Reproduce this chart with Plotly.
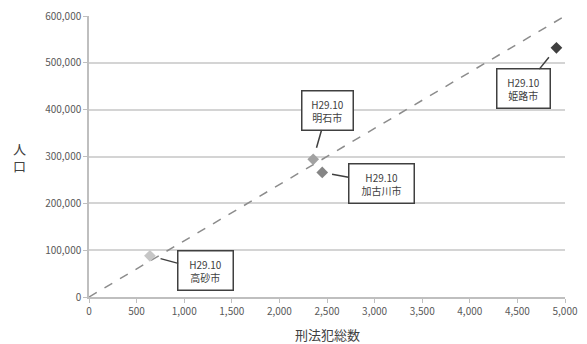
import plotly.graph_objects as go

cities = ["高砂市", "明石市", "加古川市", "姫路市"]
crimes = [640, 2355, 2450, 4910]
population = [88000, 294000, 266000, 532000]
period = "H29.10"
marker_colors = ["#c6c6c6", "#a2a2a2", "#858585", "#3f3f3f"]
trend_x = [0, 5000]
trend_y = [0, 600000]

# callout offsets (px), standoffs and box text widths
offsets = [(56, 15, 11, 44), (14, -49, 12, 40), (59, 11, 10, 54), (-33, 41, 12, 42)]

font_family = "Noto Sans CJK JP, Noto Sans, sans-serif"

fig = go.Figure()
fig.add_trace(go.Scatter(
    x=trend_x, y=trend_y, mode="lines",
    line=dict(color="#8c8c8c", width=1.5, dash="dash"),
    hoverinfo="skip", showlegend=False))
fig.add_trace(go.Scatter(
    x=crimes, y=population, mode="markers",
    marker=dict(symbol="diamond", size=9, color=marker_colors),
    showlegend=False))

for name, cx, py, (ax, ay, so, w) in zip(cities, crimes, population, offsets):
    fig.add_annotation(
        x=cx, y=py, xref="x", yref="y",
        text=f"{period}<br>{name}",
        showarrow=True, arrowhead=0, arrowwidth=1.5, arrowcolor="#404040",
        ax=ax, ay=ay, standoff=so, width=w,
        bgcolor="white", bordercolor="#404040", borderwidth=1.5, borderpad=5,
        font=dict(family=font_family, size=10, color="#404040"), align="center")

fig.add_annotation(
    x=-0.145, y=0.5, xref="paper", yref="paper", text="人<br>口",
    showarrow=False, font=dict(family=font_family, size=13, color="#404040"),
    xanchor="center", yanchor="middle")

fig.add_annotation(
    x=0.5, y=0, xref="paper", yref="paper", text="刑法犯総数",
    showarrow=False, font=dict(family=font_family, size=13, color="#404040"),
    xanchor="center", yanchor="middle", yshift=-37)

fig.update_layout(
    width=587, height=344,
    margin=dict(l=89, r=22, t=16, b=47, autoexpand=False),
    paper_bgcolor="white", plot_bgcolor="white",
    font=dict(family=font_family, size=10, color="#595959"),
    xaxis=dict(range=[0, 5000], dtick=500, tickformat=",", showgrid=False,
               showline=True, linecolor="#bfbfbf", linewidth=1.5,
               ticks="outside", ticklen=4, tickcolor="#bfbfbf",
               zeroline=False, automargin=False),
    yaxis=dict(range=[0, 600000], dtick=100000, tickformat=",", showgrid=True,
               gridcolor="#d4d4d4", gridwidth=1.5,
               showline=True, linecolor="#bfbfbf", linewidth=1.5,
               ticks="outside", ticklen=4, tickcolor="#bfbfbf", zeroline=False,
               automargin=False),
)

fig.write_html("out.html", config={"displayModeBar": False},
               post_script="document.body.style.margin='0';")
